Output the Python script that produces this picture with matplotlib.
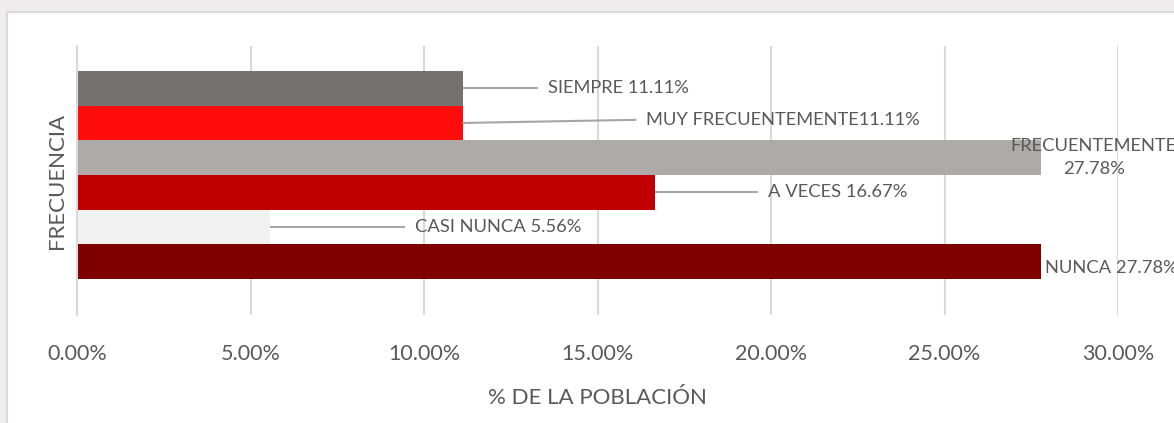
import matplotlib
matplotlib.use("Agg")
from matplotlib import pyplot as plt
from matplotlib.patches import Rectangle

plt.rcParams["font.family"] = ["Lato", "DejaVu Sans"]

# bottom to top, as drawn
categories = ["NUNCA", "CASI NUNCA", "A VECES", "FRECUENTEMENTE", "MUY FRECUENTEMENTE", "SIEMPRE"]
values = [27.78, 5.56, 16.67, 27.78, 11.11, 11.11]
colors = ["#7f0000", "#f2f2f2", "#c00000", "#aeaaaa", "#ff0d0d", "#767171"]
label_texts = ["NUNCA 27.78%", "CASI NUNCA 5.56%", "A VECES 16.67%",
               "FRECUENTEMENTE\n27.78%", "MUY FRECUENTEMENTE11.11%", "SIEMPRE 11.11%"]
xticks = [0, 5, 10, 15, 20, 25, 30]

# label placement (x of text in % units, vertical shift in bar units, leader line?)
label_x = [27.9, 9.74, 19.9, 29.3, 16.4, 13.57]
label_dy = [-0.17, 0.0, 0.0, 0.0, 0.09, 0.0]
label_ha = ["left", "left", "left", "center", "left", "left"]
has_leader = [False, True, True, False, True, True]

text_color = "#595959"
grid_color = "#d9d9d9"

fig = plt.figure(figsize=(11.74, 4.23), dpi=100, facecolor="#eeecec")
fig.patches.append(Rectangle((7 / 1174, -0.1), 1.1, (423 - 12) / 423 + 0.1,
                             transform=fig.transFigure, facecolor="white",
                             edgecolor=grid_color, linewidth=1.5, zorder=-5))

ax = fig.add_axes([77 / 1174, 108 / 423, 1041 / 1174, 269 / 423])
ax.set_zorder(2)
ax.set_facecolor("none")

ypos = list(range(len(categories)))
ax.barh(ypos, values, height=1.0, color=colors, zorder=2)

for i in ypos:
    ty = i + label_dy[i]
    if has_leader[i]:
        ax.plot([values[i], label_x[i] - 0.28], [i, ty], color="#a6a6a6", lw=1.5,
                zorder=3, solid_capstyle="butt")
    ax.text(label_x[i], ty, label_texts[i], ha=label_ha[i], va="center",
            fontsize=13.2, color=text_color, linespacing=1.55, zorder=4,
            clip_on=False)

ax.set_xlim(0, 30)
ax.set_ylim(-1.54, 6.22)
ax.set_xticks(xticks)
ax.set_xticklabels([f"{t:.2f}%" for t in xticks], fontsize=15.5, color=text_color)
ax.set_yticks([])
ax.tick_params(axis="x", length=0, pad=21)
ax.grid(axis="x", color=grid_color, lw=1.5, zorder=1)
for s in ["top", "right", "bottom"]:
    ax.spines[s].set_visible(False)
ax.spines["left"].set_color(grid_color)
ax.spines["left"].set_linewidth(1.5)
ax.spines["left"].set_zorder(5)

ax.set_xlabel("% DE LA POBLACIÓN", fontsize=16, color=text_color, labelpad=17)
ax.set_ylabel("FRECUENCIA", fontsize=16, color=text_color, labelpad=7)

fig.savefig("out.png", dpi=100, facecolor=fig.get_facecolor())
